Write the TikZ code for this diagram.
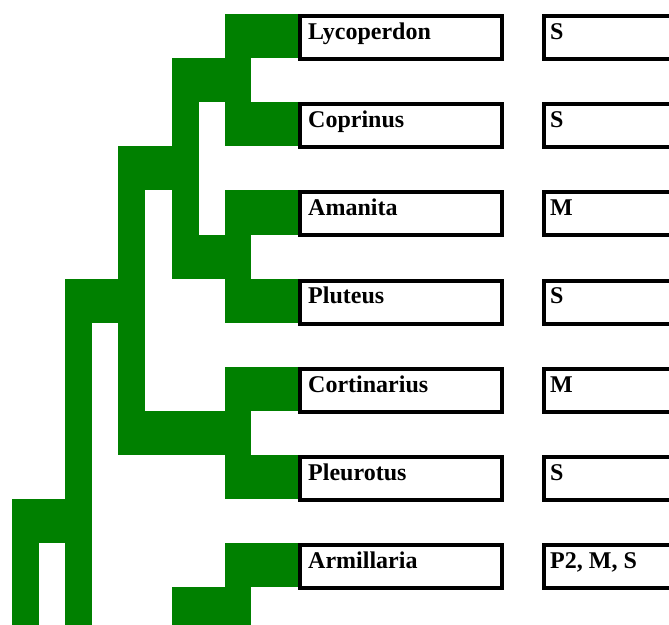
\documentclass[tikz,border=0pt]{standalone}
\usepackage{fontspec}
\setmainfont{Liberation Serif}
\definecolor{tgreen}{RGB}{0,128,0}
\begin{document}
\begin{tikzpicture}[x=1pt,y=-1pt,
  branch/.style={fill=tgreen},
  namebox/.style={draw=black,line width=4pt,minimum width=201.7pt,minimum height=43pt,inner sep=0pt},
  modebox/.style={draw=black,line width=4pt,minimum width=200pt,minimum height=43pt,inner sep=0pt,anchor=west},
  lab/.style={font=\bfseries\fontsize{24}{28}\selectfont,inner sep=0pt,anchor=base west}]
\useasboundingbox (0,0) rectangle (669,624);
\clip (0,0) rectangle (669,624);
% ---- tree (green blocks) ----
% leaf stubs
\fill[branch] (225,14)    rectangle (300,58.1);
\fill[branch] (225,102.2) rectangle (300,146.3);
\fill[branch] (225,190.4) rectangle (300,234.5);
\fill[branch] (225,278.6) rectangle (300,322.7);
\fill[branch] (225,366.8) rectangle (300,410.9);
\fill[branch] (225,455.0) rectangle (300,499.1);
\fill[branch] (225,543.2) rectangle (300,587.3);
% internal nodes
\fill[branch] (172,58.1)  rectangle (251,102.2);
\fill[branch] (172,58.1)  rectangle (199,278.6);
\fill[branch] (118,146.3) rectangle (199,190.4);
\fill[branch] (172,234.5) rectangle (251,278.6);
\fill[branch] (118,146.3) rectangle (145,455.0);
\fill[branch] (65,278.6)  rectangle (145,322.7);
\fill[branch] (118,410.9) rectangle (251,455.0);
\fill[branch] (65,278.6)  rectangle (92,630);
\fill[branch] (12,499.1)  rectangle (92,543.2);
\fill[branch] (12,499.1)  rectangle (39,630);
\fill[branch] (172,587.3) rectangle (251,630);
% ---- name boxes ----
\node[namebox] (b0) at (401.15,37.5)  {};
\node[namebox] (b1) at (401.15,125.7) {};
\node[namebox] (b2) at (401.15,213.9) {};
\node[namebox] (b3) at (401.15,302.1) {};
\node[namebox] (b4) at (401.15,390.3) {};
\node[namebox] (b5) at (401.15,478.5) {};
\node[namebox] (b6) at (401.15,566.7) {};
\node[lab] (n0) at (308,39.3)  {Lycoperdon};
\node[lab] (n1) at (308,127.5) {Coprinus};
\node[lab] (n2) at (308,215.7) {Amanita};
\node[lab] (n3) at (308,303.9) {Pluteus};
\node[lab] (n4) at (308,392.1) {Cortinarius};
\node[lab] (n5) at (308,480.3) {Pleurotus};
\node[lab] (n6) at (308,568.5) {Armillaria};
% ---- mode boxes ----
\node[modebox] (m0) at (542,37.5)  {};
\node[modebox] (m1) at (542,125.7) {};
\node[modebox] (m2) at (542,213.9) {};
\node[modebox] (m3) at (542,302.1) {};
\node[modebox] (m4) at (542,390.3) {};
\node[modebox] (m5) at (542,478.5) {};
\node[modebox] (m6) at (542,566.7) {};
\node[lab] (t0) at (550,39.3)  {S};
\node[lab] (t1) at (550,127.5) {S};
\node[lab] (t2) at (550,215.7) {M};
\node[lab] (t3) at (550,303.9) {S};
\node[lab] (t4) at (550,392.1) {M};
\node[lab] (t5) at (550,480.3) {S};
\node[lab] (t6) at (550,568.5) {P2, M, S};
\end{tikzpicture}
\end{document}
